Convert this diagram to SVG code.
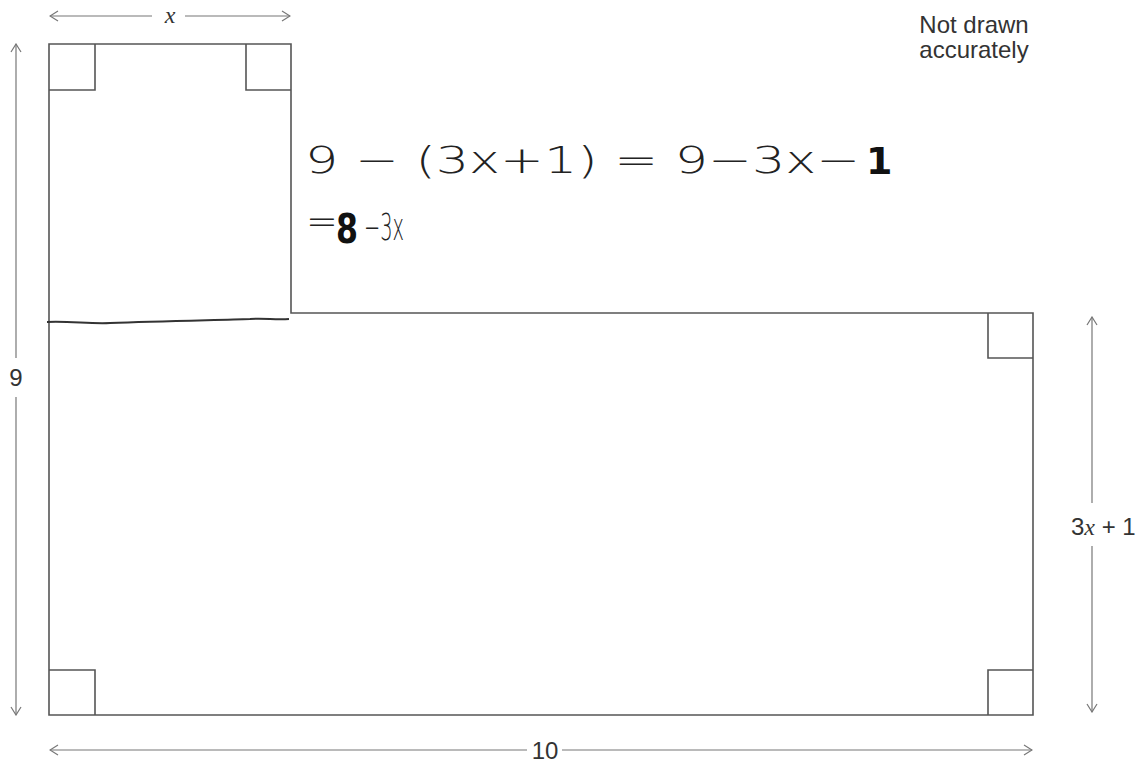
<svg xmlns="http://www.w3.org/2000/svg" width="1137" height="763" viewBox="0 0 1137 763">
<defs>
<style>
.ln{stroke:#555;stroke-width:1.6;fill:none}
.dim{stroke:#777;stroke-width:1.2;fill:none}
.lbl{font-family:"Liberation Sans",Arial,sans-serif;font-size:24px;fill:#333}
.it{font-family:"Liberation Serif","Times New Roman",serif;font-style:italic}
.hw{font-family:"DejaVu Sans","Liberation Sans",sans-serif;font-size:38px;fill:#222;font-weight:300}
.hwb{font-family:"DejaVu Sans","Liberation Sans",sans-serif;fill:#111;font-weight:bold}
</style>
<marker id="ah" viewBox="0 0 10 12" refX="9" refY="6" markerWidth="10" markerHeight="12" markerUnits="userSpaceOnUse" orient="auto-start-reverse">
<path d="M1,1 L9,6 L1,11" fill="none" stroke="#777" stroke-width="1.2"/>
</marker>
</defs>
<rect width="1137" height="763" fill="#fff"/>
<g id="shape">
<path class="ln" d="M49,44 H291 V313 H1033 V715 H49 Z"/>
<path class="ln" d="M49,90 H95 V44 M246,44 V90 H291 M988,313 V358 H1033 M49,670 H95 V715 M988,715 V670 H1033"/>
<path d="M47,322 C70,321 90,324 110,323 C160,321 220,320 250,319 C265,318 275,320 289,319" stroke="#333" stroke-width="2" fill="none"/>
</g>
<g id="connectors">
<line class="dim" x1="50" y1="16" x2="152" y2="16" marker-start="url(#ah)"/>
<line class="dim" x1="185" y1="16" x2="290" y2="16" marker-end="url(#ah)"/>
<line class="dim" x1="16" y1="44" x2="16" y2="358" marker-start="url(#ah)"/>
<line class="dim" x1="16" y1="397" x2="16" y2="715" marker-end="url(#ah)"/>
<line class="dim" x1="1092" y1="317" x2="1092" y2="503" marker-start="url(#ah)"/>
<line class="dim" x1="1092" y1="546" x2="1092" y2="712" marker-end="url(#ah)"/>
<line class="dim" x1="50" y1="750" x2="527" y2="750" marker-start="url(#ah)"/>
<line class="dim" x1="562" y1="750" x2="1032" y2="750" marker-end="url(#ah)"/>
</g>
<g id="labels">
<text class="lbl it" x="170" y="23" text-anchor="middle" font-size="26">x</text>
<text class="lbl" x="16" y="386" text-anchor="middle">9</text>
<text class="lbl" x="1071" y="535" font-size="22">3<tspan class="it" font-size="24">x</tspan> + 1</text>
<text class="lbl" x="545" y="759" text-anchor="middle">10</text>
<text class="lbl" x="974" y="33" text-anchor="middle" font-size="23">Not drawn</text>
<text class="lbl" x="974" y="58" text-anchor="middle" font-size="23">accurately</text>
</g>
<g id="working">
<text class="hw" x="305" y="173" textLength="555" lengthAdjust="spacingAndGlyphs">9 − (3x+1)  =  9−3x−</text>
<text class="hwb" x="866" y="174" font-size="38">1</text>
<text class="hw" x="306" y="234" font-size="24">=</text>
<text class="hwb" x="336" y="243" font-size="40" textLength="22" lengthAdjust="spacingAndGlyphs">8</text>
<text class="hw" x="364" y="240" textLength="40" lengthAdjust="spacingAndGlyphs">−3x</text>
</g>
</svg>
